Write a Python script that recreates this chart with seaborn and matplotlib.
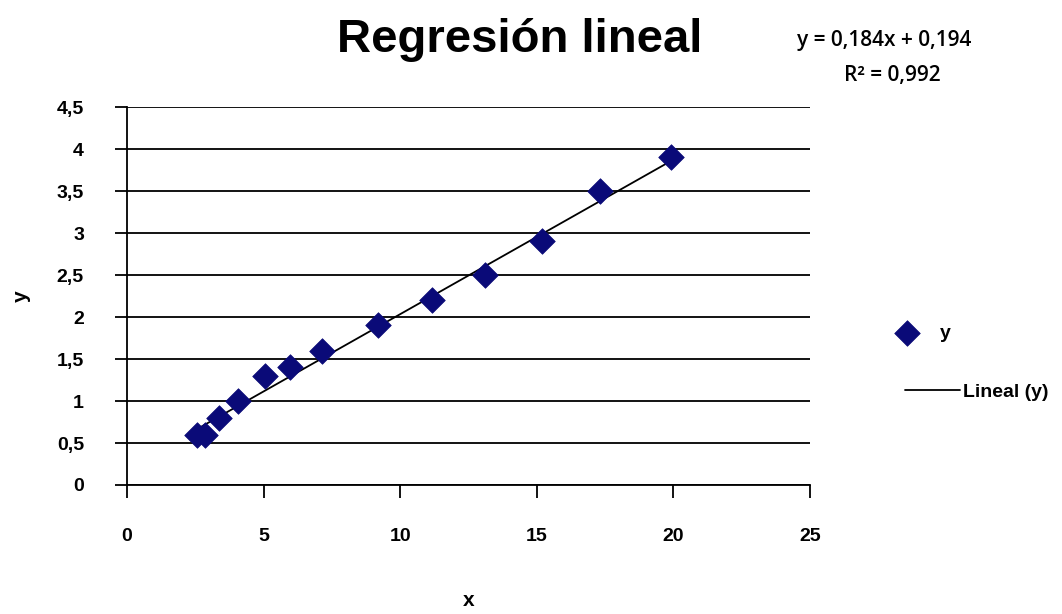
import numpy as np
import pandas as pd
import matplotlib
matplotlib.use("Agg")
import matplotlib.pyplot as plt
import seaborn as sns

# datos
x_vals = [2.55, 2.85, 3.35, 4.05, 5.05, 5.95, 7.15, 9.2, 11.15, 13.1, 15.2, 17.3, 19.9]
y_vals = [0.6, 0.6, 0.8, 1.0, 1.3, 1.4, 1.6, 1.9, 2.2, 2.5, 2.9, 3.5, 3.9]
pendiente = 0.184
intercepto = 0.194
x_ticks = [0, 5, 10, 15, 20, 25]
y_ticks = [0, 0.5, 1, 1.5, 2, 2.5, 3, 3.5, 4, 4.5]
y_tick_labels = ["0", "0,5", "1", "1,5", "2", "2,5", "3", "3,5", "4", "4,5"]

sns.set_style("white")
plt.rcParams["font.family"] = ["Liberation Sans", "DejaVu Sans"]
plt.rcParams["text.color"] = "black"
plt.rcParams["axes.labelcolor"] = "black"
plt.rcParams["xtick.color"] = "black"
plt.rcParams["ytick.color"] = "black"

df = pd.DataFrame({"x": x_vals, "y": y_vals})
xs = np.array([min(x_vals), max(x_vals)])
fit = pd.DataFrame({"x": xs, "y": pendiente * xs + intercepto})

fig = plt.figure(figsize=(10.62, 6.14), dpi=100)
ax = fig.add_axes([0.1196, 0.2101, 0.6431, 0.6156])

sns.lineplot(data=fit, x="x", y="y", ax=ax, color="black", linewidth=1.3,
             label="Lineal (y)", zorder=2)
sns.scatterplot(data=df, x="x", y="y", ax=ax, marker="D", color="#0a0a78",
                s=170, edgecolor="#0a0a78", linewidth=0.5, label="y", zorder=3)

ax.set_xlim(0, 25)
ax.set_ylim(0, 4.5)
ax.set_xticks(x_ticks)
ax.set_yticks(y_ticks)
ax.set_yticklabels(y_tick_labels)
ax.yaxis.grid(True, color="black", linewidth=1.3)
ax.xaxis.grid(False)
ax.set_axisbelow(True)
for s in ["top", "right"]:
    ax.spines[s].set_visible(False)
for s in ["left", "bottom"]:
    ax.spines[s].set_color("black")
    ax.spines[s].set_linewidth(1.3)
ax.tick_params(axis="both", direction="out", length=9, width=1.3, color="black",
               labelsize=14, pad=22, bottom=True, left=True)
for lab in ax.get_xticklabels() + ax.get_yticklabels():
    lab.set_fontweight("bold")

ax.set_xlabel("x", fontsize=15, fontweight="bold", labelpad=33)
ax.set_ylabel("y", fontsize=15, fontweight="bold", labelpad=19)

fig.text(0.489, 0.935, "Regresión lineal", fontsize=34, fontweight="bold",
         ha="center", va="center")
eq_font = ["Open Sans", "DejaVu Sans"]
fig.text(0.833, 0.934, "y = 0,184x + 0,194", fontsize=15, family=eq_font,
         fontweight="semibold", ha="center", va="center")
fig.text(0.84, 0.877, "R² = 0,992", fontsize=15, family=eq_font,
         fontweight="semibold", ha="center", va="center")

# leyenda estilo excel: dos bloques separados
handles, labels = ax.get_legend_handles_labels()
h = dict(zip(labels, handles))
ax.get_legend().remove()
fig.legend([h["y"]], ["y"], loc="center left", bbox_to_anchor=(0.8326, 0.4577),
           frameon=False, borderpad=0, handlelength=1.35, handletextpad=1.0,
           prop={"weight": "bold", "size": 14})
fig.legend([h["Lineal (y)"]], ["Lineal (y)"], loc="center left",
           bbox_to_anchor=(0.8426, 0.3616), frameon=False, borderpad=0,
           handlelength=2.84, handletextpad=0.15,
           prop={"weight": "bold", "size": 14})

fig.savefig("out.png", dpi=100)
